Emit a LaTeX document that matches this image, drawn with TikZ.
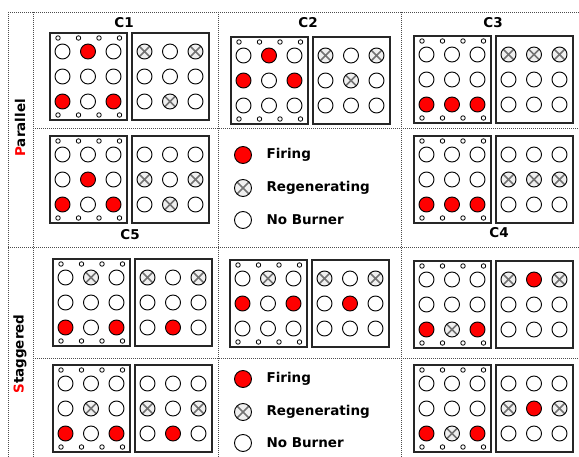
\documentclass[tikz,border=0pt]{standalone}
\usepackage{fontspec}
\setmainfont{DejaVu Sans}
\definecolor{fire}{RGB}{255,0,0}
\tikzset{
  burnerbase/.style={circle,draw=black,line width=0.9pt,minimum size=15pt,inner sep=0pt},
  bF/.style={burnerbase,fill=fire},
  bO/.style={burnerbase,fill=white},
  bR/.style={burnerbase,fill=gray!12,path picture={
      \draw[black!55,line width=1.5pt]
        (path picture bounding box.north west)--(path picture bounding box.south east)
        (path picture bounding box.north east)--(path picture bounding box.south west);}},
  hole/.style={circle,draw=black,line width=0.8pt,minimum size=4.5pt,inner sep=0pt,fill=white},
  boxline/.style={draw=black!85,line width=1.1pt},
  gridline/.style={draw=black!70,line width=0.8pt,dash pattern=on 1pt off 1pt},
  lbl/.style={font=\fontsize{13.5}{15}\selectfont\bfseries},
  leg/.style={lbl,anchor=west},
}
\newcommand{\bgrid}[3]{%
  \draw[boxline] (#1,#2) rectangle ++(77,87);
  \foreach \s [count=\i from 0] in {#3} {
    \pgfmathsetmacro\cx{#1+12.5+25.5*mod(\i,3)}
    \pgfmathsetmacro\cy{#2+18.5+25*floor(\i/3)}
    \node[b\s] at (\cx,\cy) {};
  }}
\newcommand{\bholes}[2]{%
  \foreach \hx in {8,28.5,49,69.5} {
    \node[hole] at (#1+\hx,#2+5) {};
    \node[hole] at (#1+\hx,#2+82) {};
  }}
\newcommand{\bpanel}[4]{%
  \bgrid{#1}{#2}{#3}\bholes{#1}{#2}%
  \bgrid{#1+82}{#2}{#4}}
\begin{document}
\begin{tikzpicture}[x=1pt,y=-1pt]
\useasboundingbox (0,0) rectangle (579,457);
% grid
\draw[gridline] (8,12) -- (579,12);
\draw[gridline] (33,128) -- (579,128);
\draw[gridline] (8,247) -- (579,247);
\draw[gridline] (33,358) -- (579,358);
\draw[gridline] (8,12) -- (8,457);
\draw[gridline] (33,12) -- (33,457);
\draw[gridline] (218,12) -- (218,457);
\draw[gridline] (401,12) -- (401,457);
% labels
\node[lbl,rotate=90] (par) at (20,128) {\textcolor{fire}{P}arallel};
\node[lbl,rotate=90] (stag) at (20,354) {\textcolor{fire}{S}taggered};
\node[lbl] (c1) at (124,23) {C1};
\node[lbl] (c2) at (308,23) {C2};
\node[lbl] (c3) at (493,23) {C3};
\node[lbl] (c5) at (130,235) {C5};
\node[lbl] (c4) at (499,233) {C4};
% panels
\bpanel{50}{33}{O,F,O,O,O,O,F,O,F}{R,O,R,O,O,O,O,R,O}
\bpanel{231}{37}{O,F,O,F,O,F,O,O,O}{R,O,R,O,R,O,O,O,O}
\bpanel{414}{36}{O,O,O,O,O,O,F,F,F}{R,R,R,O,O,O,O,O,O}
\bpanel{50}{136}{O,O,O,O,F,O,F,O,F}{O,O,O,R,O,R,O,R,O}
\bpanel{414}{136}{O,O,O,O,O,O,F,F,F}{O,O,O,R,R,R,O,O,O}
\bpanel{53}{259}{O,R,O,O,O,O,F,O,F}{R,O,R,O,O,O,O,F,O}
\bpanel{230}{260}{O,R,O,F,O,F,O,O,O}{R,O,R,O,F,O,O,O,O}
\bpanel{414}{261}{O,O,O,O,O,O,F,R,F}{R,F,R,O,O,O,O,O,O}
\bpanel{53}{365}{O,O,O,O,R,O,F,O,F}{O,O,O,R,O,R,O,F,O}
\bpanel{414}{365}{O,O,O,O,O,O,F,R,F}{O,O,O,R,F,R,O,O,O}
% legends
\node[bF,minimum size=17pt] (lf1) at (243,155) {};
\node[bR,minimum size=17pt] (lr1) at (243,188) {};
\node[bO,minimum size=17pt] (lo1) at (243,220) {};
\node[leg] (tf1) at (263,155) {Firing};
\node[leg] (tr1) at (263,188) {Regenerating};
\node[leg] (to1) at (263,220) {No Burner};
\node[bF,minimum size=17pt] (lf2) at (243,379) {};
\node[bR,minimum size=17pt] (lr2) at (243,412) {};
\node[bO,minimum size=17pt] (lo2) at (243,443) {};
\node[leg] (tf2) at (263,379) {Firing};
\node[leg] (tr2) at (263,412) {Regenerating};
\node[leg] (to2) at (263,443) {No Burner};
\end{tikzpicture}
\end{document}
